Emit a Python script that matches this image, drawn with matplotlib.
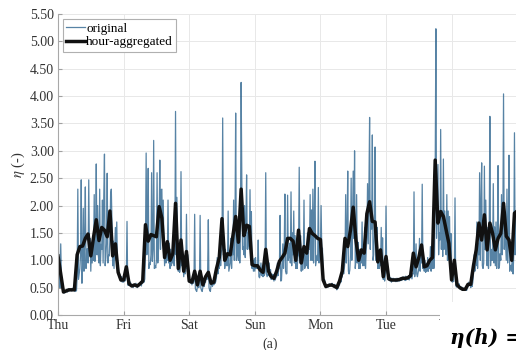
import numpy as np
import matplotlib.pyplot as plt
from matplotlib.patches import Rectangle

plt.rcParams["font.family"] = "Liberation Serif"
plt.rcParams["mathtext.fontset"] = "stix"

day_labels = ["Thu", "Fri", "Sat", "Sun", "Mon", "Tue", "Wed"]

# hour-aggregated eta, one value per hour
hour_thu = [1.08, 0.75, 0.42, 0.44, 0.46, 0.46, 0.46, 1.10, 1.25, 1.26, 1.40, 1.48,
            1.08, 1.42, 1.74, 1.36, 1.60, 1.55, 1.43, 1.90, 1.08, 1.30, 0.78, 0.64]
hour_fri = [0.64, 0.88, 0.57, 0.53, 0.55, 0.53, 0.57, 0.62, 1.65, 1.35, 1.47, 1.45,
            1.43, 1.98, 1.77, 1.05, 1.34, 1.00, 1.12, 2.04, 0.85, 1.37, 0.80, 1.16]
hour_sat = [0.62, 0.60, 0.80, 0.55, 0.80, 0.55, 0.70, 0.78, 0.58, 0.60, 0.85, 1.05,
            1.76, 1.00, 1.12, 1.10, 1.45, 1.80, 1.33, 2.30, 1.45, 1.64, 1.62, 0.92]
hour_sun = [0.90, 0.90, 0.82, 0.78, 1.20, 0.80, 0.70, 0.67, 0.80, 0.98, 1.05, 1.13,
            1.40, 1.40, 1.35, 1.00, 1.55, 0.95, 1.25, 1.13, 1.58, 1.49, 1.45, 1.40]
hour_mon = [1.38, 0.64, 0.52, 0.54, 0.55, 0.53, 0.50, 0.62, 0.80, 1.40, 1.25, 1.55,
            1.97, 1.37, 1.00, 1.19, 1.13, 1.85, 2.07, 1.71, 1.70, 0.97, 1.19, 0.70]
hour_tue = [1.07, 0.66, 0.64, 0.64, 0.64, 0.65, 0.67, 0.67, 0.68, 0.72, 1.13, 0.88,
            1.05, 1.28, 0.88, 0.90, 1.00, 1.05, 2.83, 1.68, 1.89, 1.80, 1.55, 1.31]
hour_wed = [0.64, 1.00, 0.55, 0.50, 0.47, 0.47, 0.56, 0.56, 0.90, 1.19, 1.68, 1.37,
            1.83, 1.19, 1.68, 1.49, 1.19, 1.40, 1.49, 2.04, 1.44, 1.37, 1.00, 1.86, 1.90]

# original signal, four samples per hour
orig_thu = [2.19, 0.95, 0.70, 0.50, 1.30, 0.62, 0.55, 0.52,
            0.45, 0.40, 0.42, 0.41, 0.43, 0.47, 0.42, 0.45,
            0.48, 0.44, 0.47, 0.45, 0.44, 0.49, 0.46, 0.45,
            0.47, 0.43, 0.50, 0.44, 0.70, 2.30, 0.65, 0.75,
            0.85, 1.10, 2.47, 0.58, 0.90, 1.95, 0.80, 1.40,
            2.34, 0.85, 1.20, 1.21, 0.95, 2.47, 1.10, 1.40,
            0.80, 1.30, 0.95, 1.27, 1.00, 2.20, 0.98, 1.50,
            2.76, 1.10, 2.00, 1.10, 0.95, 2.30, 0.90, 1.29,
            1.20, 2.10, 0.95, 2.15, 2.94, 0.90, 1.05, 1.31,
            2.59, 0.95, 1.10, 1.08, 1.40, 2.21, 2.30, 1.69,
            0.90, 1.35, 0.85, 1.22, 1.60, 1.00, 1.70, 0.90,
            0.95, 0.70, 0.75, 0.72, 0.62, 0.70, 0.60, 0.64]
orig_fri = [0.60, 0.66, 0.62, 0.68, 0.72, 1.71, 0.55, 0.54,
            0.58, 0.55, 0.60, 0.55, 0.52, 0.55, 0.50, 0.55,
            0.56, 0.52, 0.58, 0.54, 0.50, 0.55, 0.52, 0.55,
            0.55, 0.60, 0.53, 0.60, 0.58, 0.64, 0.60, 0.66,
            1.20, 2.96, 1.10, 1.34, 2.68, 0.85, 0.95, 0.92,
            1.10, 2.60, 0.98, 1.20, 3.19, 0.85, 0.90, 0.86,
            1.00, 2.60, 0.95, 1.17, 1.60, 2.83, 1.20, 2.29,
            2.30, 1.40, 2.10, 1.28, 0.90, 1.25, 0.95, 1.10,
            1.00, 2.10, 0.95, 1.31, 0.85, 1.20, 0.90, 1.05,
            0.95, 1.40, 0.90, 1.23, 3.72, 1.10, 2.15, 1.19,
            0.80, 0.95, 0.78, 0.87, 2.62, 0.90, 1.05, 0.91,
            0.70, 0.95, 0.75, 0.80, 1.84, 0.85, 1.10, 0.85]
orig_sat = [0.60, 0.65, 0.58, 0.65, 0.55, 0.65, 0.58, 0.62,
            1.84, 0.48, 0.45, 0.43, 0.52, 0.58, 0.50, 0.60,
            1.82, 0.50, 0.45, 0.43, 0.50, 0.58, 0.52, 0.60,
            0.60, 0.75, 0.65, 0.80, 1.74, 0.50, 0.45, 0.43,
            0.55, 0.62, 0.52, 0.63, 0.55, 0.65, 0.58, 0.62,
            0.70, 1.05, 0.75, 0.90, 0.85, 1.30, 0.90, 1.15,
            1.20, 3.60, 1.10, 1.14, 0.85, 1.20, 0.90, 1.05,
            0.90, 1.90, 0.80, 0.88, 0.95, 1.40, 0.85, 1.20,
            1.10, 2.10, 1.00, 1.60, 3.69, 1.00, 1.40, 1.11,
            1.00, 1.80, 0.95, 1.57, 4.25, 2.50, 1.20, 1.25,
            1.10, 2.00, 1.05, 1.65, 2.56, 1.20, 1.50, 1.30,
            1.20, 2.29, 1.10, 1.89, 0.85, 1.00, 0.80, 1.03]
orig_sun = [0.80, 1.05, 0.85, 0.90, 0.85, 1.37, 0.70, 0.68,
            0.75, 0.95, 0.72, 0.86, 0.70, 0.90, 0.72, 0.80,
            2.60, 0.75, 0.70, 0.75, 0.72, 0.95, 0.70, 0.83,
            0.65, 0.75, 0.66, 0.74, 0.62, 0.72, 0.64, 0.70,
            0.70, 0.95, 0.72, 0.83, 0.85, 1.82, 0.62, 0.63,
            0.90, 1.30, 0.85, 1.15, 2.21, 0.80, 0.75, 0.76,
            2.19, 1.00, 1.10, 1.31, 0.95, 2.25, 0.90, 1.50,
            1.10, 1.90, 0.95, 1.45, 0.85, 1.25, 0.85, 1.05,
            1.10, 2.70, 0.95, 1.45, 0.80, 1.20, 0.82, 0.98,
            2.10, 0.85, 0.90, 1.15, 0.90, 1.50, 0.85, 1.27,
            1.20, 2.20, 1.00, 1.92, 1.00, 2.30, 0.95, 1.71,
            2.81, 0.90, 1.00, 1.09, 1.00, 2.33, 0.95, 1.32]
orig_mon = [1.10, 2.00, 1.20, 1.22, 0.70, 0.60, 0.65, 0.61,
            0.50, 0.55, 0.52, 0.51, 0.52, 0.57, 0.53, 0.54,
            0.53, 0.58, 0.54, 0.55, 0.50, 0.56, 0.52, 0.54,
            0.46, 0.52, 0.49, 0.53, 0.55, 0.65, 0.60, 0.68,
            0.70, 0.90, 0.75, 0.85, 1.00, 2.20, 0.95, 1.45,
            2.63, 0.80, 0.75, 0.82, 1.10, 2.50, 1.00, 1.60,
            2.63, 1.40, 3.00, 0.85, 1.00, 2.20, 0.95, 1.33,
            0.85, 1.20, 0.85, 1.10, 0.95, 1.70, 0.90, 1.21,
            0.90, 1.60, 0.85, 1.17, 1.40, 2.40, 1.30, 2.30,
            3.61, 1.20, 1.90, 1.57, 3.29, 1.00, 1.10, 1.45,
            3.07, 1.00, 1.13, 1.60, 0.85, 1.15, 0.85, 1.03,
            0.90, 1.60, 0.85, 1.41, 0.65, 0.80, 0.62, 0.73]
orig_tue = [1.99, 0.80, 0.75, 0.74, 0.64, 0.70, 0.62, 0.68,
            0.60, 0.67, 0.62, 0.67, 0.62, 0.66, 0.61, 0.67,
            0.61, 0.67, 0.62, 0.66, 0.62, 0.68, 0.63, 0.67,
            0.64, 0.70, 0.65, 0.69, 0.63, 0.71, 0.64, 0.70,
            0.65, 0.72, 0.64, 0.71, 0.68, 0.78, 0.66, 0.76,
            0.75, 2.25, 0.70, 0.82, 1.30, 0.75, 0.70, 0.77,
            0.85, 1.40, 0.80, 1.15, 0.95, 2.39, 0.85, 0.93,
            0.80, 1.00, 0.78, 0.94, 0.80, 1.05, 0.80, 0.95,
            0.85, 1.25, 0.80, 1.10, 0.85, 1.40, 0.85, 1.10,
            2.60, 5.23, 1.40, 2.09, 2.75, 1.10, 1.50, 1.37,
            3.39, 1.20, 1.90, 1.07, 2.85, 1.20, 1.90, 1.25,
            1.10, 2.20, 1.00, 1.90, 1.00, 1.80, 0.95, 1.49]
orig_wed = [0.70, 0.60, 0.65, 0.61, 0.80, 2.14, 0.55, 0.51,
            0.52, 0.58, 0.53, 0.57, 0.48, 0.52, 0.49, 0.51,
            0.45, 0.49, 0.46, 0.48, 0.46, 0.48, 0.45, 0.49,
            0.52, 0.60, 0.54, 0.58, 0.50, 0.62, 0.52, 0.60,
            0.75, 1.10, 0.80, 0.95, 0.90, 1.70, 0.85, 1.31,
            1.10, 2.60, 1.00, 2.02, 2.78, 0.90, 0.85, 0.95,
            2.72, 1.20, 2.10, 1.30, 0.90, 1.60, 0.85, 1.41,
            3.63, 0.90, 1.20, 1.00, 1.00, 2.40, 0.95, 1.61,
            0.90, 1.70, 0.85, 1.31, 2.73, 0.85, 0.90, 1.12,
            1.00, 2.20, 1.10, 1.66, 4.04, 1.20, 1.60, 1.32,
            1.00, 2.30, 0.95, 1.51, 2.92, 0.80, 0.85, 0.91,
            0.80, 1.30, 0.75, 1.15, 3.33, 1.10, 1.80, 1.21, 1.50]

eta_hour = np.concatenate([hour_thu, hour_fri, hour_sat, hour_sun, hour_mon, hour_tue, hour_wed])
eta_orig = np.concatenate([orig_thu, orig_fri, orig_sat, orig_sun, orig_mon, orig_tue, orig_wed])
t_hour = np.arange(len(eta_hour))
t_orig = np.arange(len(eta_orig)) * 0.25

fig = plt.figure(figsize=(5.16, 3.5), dpi=100)
ax = fig.add_axes([58 / 516, 35 / 350, 458 / 516, 301 / 350])

ax.plot(t_orig, eta_orig, color="#1f5a87", alpha=0.75, lw=0.9, label="original")
ax.plot(t_hour, eta_hour, color="#111111", lw=2.5, label="hour-aggregated")

ax.set_xlim(0, 458 / 65.6 * 24)
ax.set_ylim(0, 5.5)
ax.set_xticks(np.arange(len(day_labels)) * 24)
ax.set_xticklabels(day_labels)
yt = np.arange(0, 5.51, 0.5)
ax.set_yticks(yt)
ax.set_yticklabels([f"{v:.2f}" for v in yt])
ax.tick_params(direction="in", length=3, color="#a0a0a0", labelsize=10, pad=3,
               labelcolor="#333333")
ax.grid(True, color="#e8e8e8", lw=0.7)
ax.set_axisbelow(True)
for side in ["top", "right"]:
    ax.spines[side].set_visible(False)
for side in ["left", "bottom"]:
    ax.spines[side].set_color("#a8a8a8")
    ax.spines[side].set_linewidth(0.8)

ax.set_ylabel(r"$\eta$ (-)", fontsize=10.5, color="#333333")
ax.yaxis.set_label_coords(-0.068, 0.5)

leg = ax.legend(loc="upper left", bbox_to_anchor=(0.011, 0.983), borderaxespad=0,
                fontsize=9.5, handlelength=1.45, handletextpad=0.05, labelspacing=0.1,
                borderpad=0.25, fancybox=False, framealpha=1, edgecolor="#b0b0b0")
leg.get_frame().set_linewidth(0.8)

# overlapping crop from the page: white box with the start of an equation
fig.patches.append(Rectangle((440 / 516, 0), 76 / 516, 48 / 350, transform=fig.transFigure,
                             facecolor="white", edgecolor="none", zorder=5))
fig.text(450 / 516, 6 / 350, "η(h) =", fontsize=14.5, family="DejaVu Serif",
         weight="bold", style="italic", va="baseline", zorder=6)
fig.text(270 / 516, 6 / 350, "(a)", fontsize=10, ha="center", va="center", color="#333333")

fig.savefig("out.png", dpi=100)
